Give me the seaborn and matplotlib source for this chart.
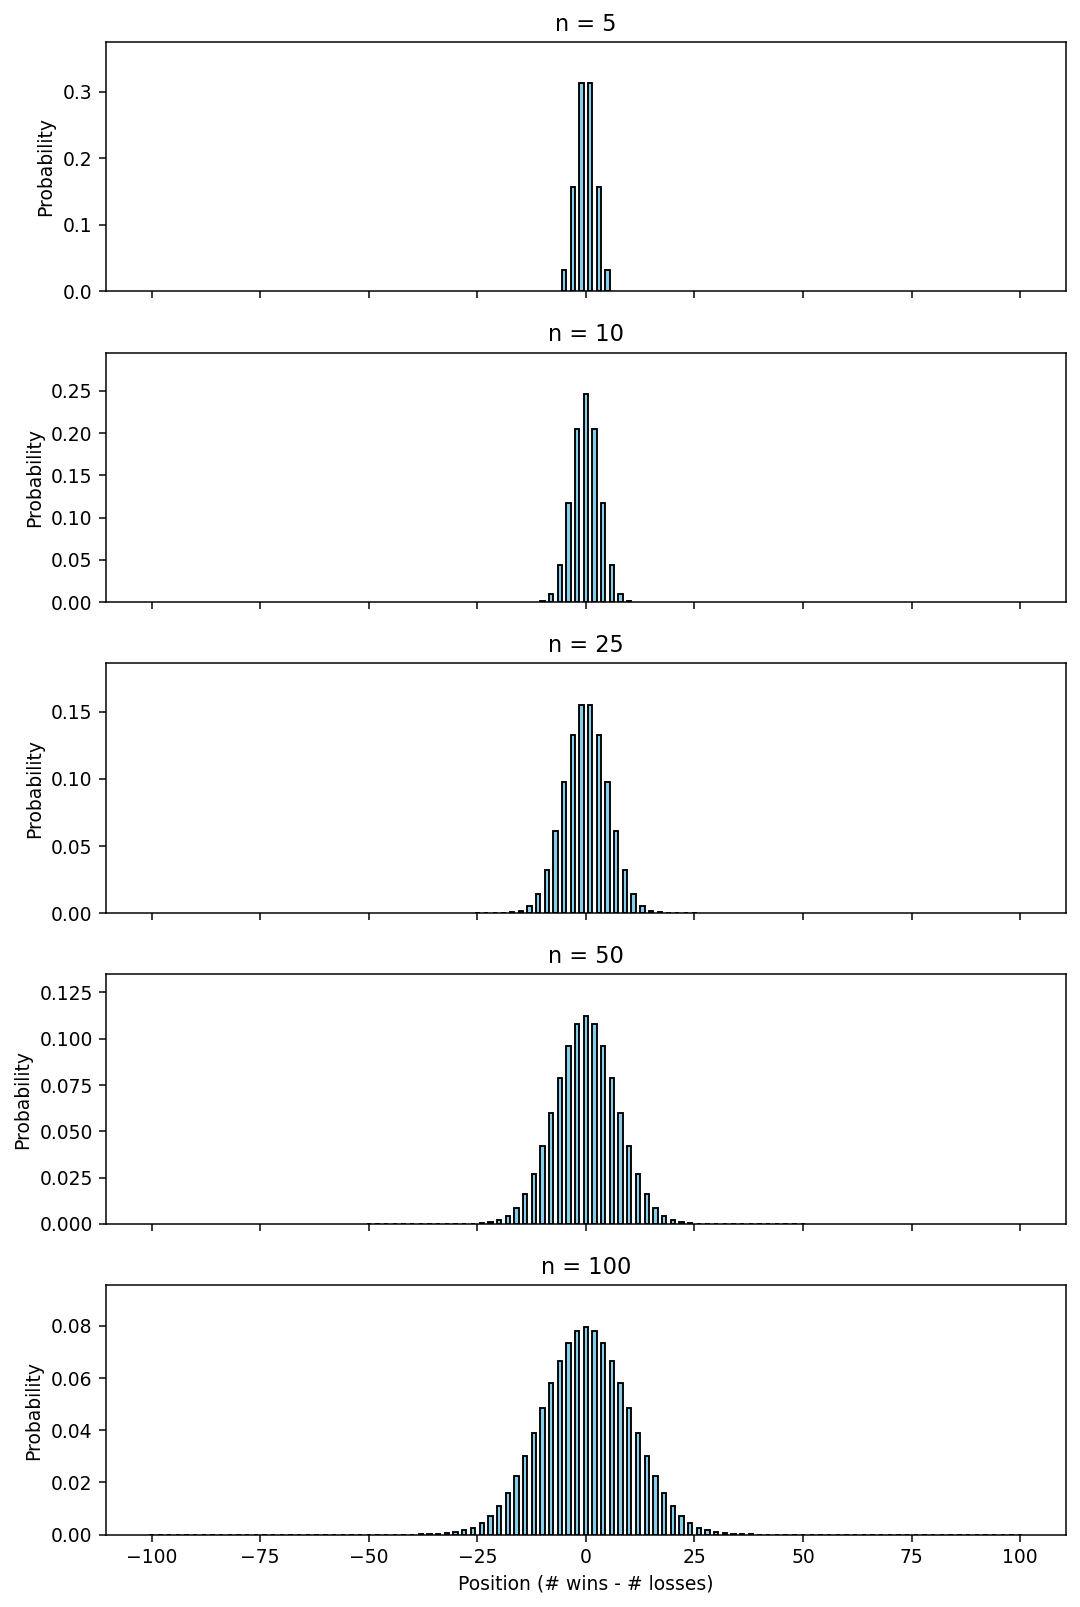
import numpy as np
import matplotlib
matplotlib.use("Agg")
import matplotlib.pyplot as plt
import seaborn as sns

# number of steps in each panel
steps = [5, 10, 25, 50, 100]

# probability of each end position
prob_5 = [0.0312, 0.1562, 0.3125, 0.3125, 0.1562, 0.0312]

prob_10 = [0.0010, 0.0098, 0.0439, 0.1172, 0.2051, 0.2461,
           0.2051, 0.1172, 0.0439, 0.0098, 0.0010]

prob_25 = [0.0, 0.0, 0.0, 0.0001, 0.0004, 0.0016, 0.0053, 0.0143, 0.0322,
           0.0609, 0.0974, 0.1328, 0.1550,
           0.1550, 0.1328, 0.0974, 0.0609, 0.0322, 0.0143, 0.0053, 0.0016,
           0.0004, 0.0001, 0.0, 0.0, 0.0]

prob_50 = [0.0, 0.0, 0.0, 0.0, 0.0, 0.0, 0.0, 0.0, 0.0, 0.0,
           0.0, 0.0, 0.0001, 0.0003, 0.0008, 0.0020, 0.0044, 0.0087, 0.0160,
           0.0270, 0.0419, 0.0598, 0.0788, 0.0960, 0.1080,
           0.1123,
           0.1080, 0.0960, 0.0788, 0.0598, 0.0419, 0.0270, 0.0160, 0.0087,
           0.0044, 0.0020, 0.0008, 0.0003, 0.0001, 0.0,
           0.0, 0.0, 0.0, 0.0, 0.0, 0.0, 0.0, 0.0, 0.0, 0.0, 0.0]

prob_100 = [0.0, 0.0, 0.0, 0.0, 0.0, 0.0, 0.0, 0.0, 0.0, 0.0,
            0.0, 0.0, 0.0, 0.0, 0.0, 0.0, 0.0, 0.0, 0.0, 0.0,
            0.0, 0.0, 0.0, 0.0, 0.0, 0.0, 0.0, 0.0, 0.0, 0.0,
            0.0, 0.0001, 0.0001, 0.0002, 0.0005, 0.0009, 0.0016, 0.0027,
            0.0045, 0.0071, 0.0108, 0.0159, 0.0223, 0.0301, 0.0390, 0.0485,
            0.0580, 0.0666, 0.0735, 0.0780,
            0.0796,
            0.0780, 0.0735, 0.0666, 0.0580, 0.0485, 0.0390, 0.0301, 0.0223,
            0.0159, 0.0108, 0.0071, 0.0045, 0.0027, 0.0016, 0.0009, 0.0005,
            0.0002, 0.0001, 0.0001, 0.0,
            0.0, 0.0, 0.0, 0.0, 0.0, 0.0, 0.0, 0.0, 0.0, 0.0,
            0.0, 0.0, 0.0, 0.0, 0.0, 0.0, 0.0, 0.0, 0.0, 0.0,
            0.0, 0.0, 0.0, 0.0, 0.0, 0.0, 0.0, 0.0, 0.0, 0.0]

probs = [prob_5, prob_10, prob_25, prob_50, prob_100]

fig, axes = plt.subplots(5, 1, figsize=(8, 11.905), dpi=135, sharex=True)
fig.subplots_adjust(left=0.098, right=0.987, top=0.974, bottom=0.045, hspace=0.246)

for ax, n, p in zip(axes, steps, probs):
    # positions go from -n to n in steps of 2
    pos = np.arange(-n, n + 1, 2)
    sns.barplot(x=pos, y=p, native_scale=True, width=0.5, color="skyblue",
                saturation=1, edgecolor="black", linewidth=1, ax=ax)
    ax.set_title(f"n = {n}", fontsize=12)
    ax.set_ylabel("Probability")
    ax.set_ylim(0, max(p) * 1.2)

axes[-1].set_xlabel("Position (# wins - # losses)")
axes[-1].set_xticks([-100, -75, -50, -25, 0, 25, 50, 75, 100])
axes[-1].set_xlim(-110.55, 110.55)

fig.savefig("out.png", dpi=135)
